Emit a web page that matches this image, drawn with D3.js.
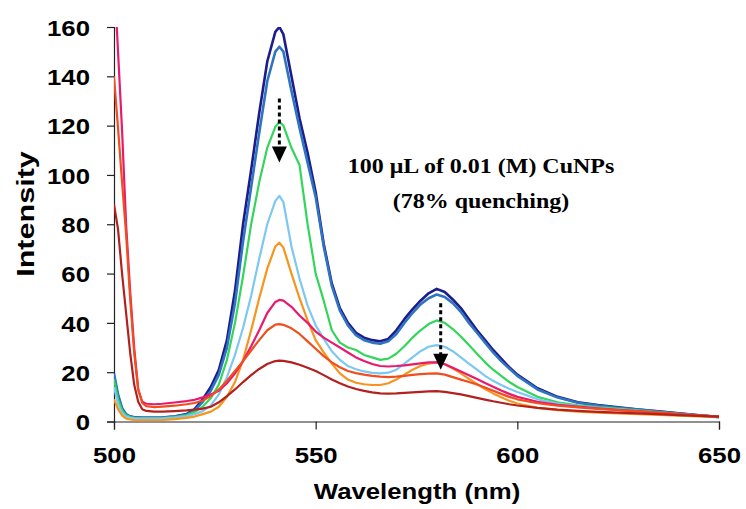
<!DOCTYPE html>
<html>
<head>
<meta charset="utf-8">
<script src="https://cdn.jsdelivr.net/npm/d3@7"></script>
<style>
  html, body { margin: 0; padding: 0; background: #fff; }
  svg { display: block; }
</style>
</head>
<body>
<svg id="chart" width="746" height="509"></svg>
<script>
// ---------------- DATA ----------------
const wavelength = [500,501,502,503,504,505,506,507,508,510,512,515,518,520,522,524,526,528,530,532,534,536,538,540,541,542,544,546,548,550,552,554,556,558,560,562,564,566,568,570,572,574,576,578,580,582,584,586,588,590,592,594,596,598,600,605,610,615,620,625,630,635,640,645,650];

const seriesNames = ["s1","s2","s3","s4","s5","s6","s7","s8"];
const seriesColors = ["#1C1C8C","#2F74C0","#33D65A","#7CC8F2","#F7941D","#E8196E","#F04E1E","#B3201E"];

const s1 = [18,10,5,2.8,2,1.7,1.6,1.5,1.5,1.5,1.6,2,3,5,9,14,21,33,53,80,102,125,146,158,160,157,140,123,109,93,72,56,46,40,36,34,33,32.5,33.5,37,41.5,45.5,49,52,53.8,52.5,49.5,46,41.5,37,33,29,25.5,22,19,13.5,10,7.8,6.7,5.8,4.9,4.1,3.3,2.5,1.8];
const s2 = [19.5,11,5.5,3,2,1.7,1.6,1.5,1.5,1.5,1.6,2,2.8,4.5,8,12.5,19,30,48,73,95,117,138,150,152,150,134,119,105,91,71,55,45,39,35,33,32,31.5,32.5,35.5,40,44,47.5,50,51.5,50.5,48,44.5,40,36,32,28,24.5,21.5,18.5,13,9.7,7.6,6.5,5.6,4.8,4,3.2,2.5,1.8];
const s3 = [17,9,4.5,2.5,1.8,1.5,1.4,1.3,1.3,1.3,1.4,1.8,2.5,3.8,6,9.5,15,25,40,59,80,97,111,119.5,121.5,120,111,104,80,60,49,37,32,30,29,27,26,25,25.5,27.5,30.5,34,37,39.5,41,40,37.5,34.5,31,27.5,24,21,18.5,16,14,10,7.8,6.6,5.8,5.2,4.5,3.8,3.1,2.4,1.8];
const s4 = [14,7,3.5,2,1.5,1.3,1.2,1.2,1.2,1.2,1.3,1.6,2.2,3,4.2,6.5,11,18,27,38,51,66,80,89.5,91.5,89,71,58,47,39,33.5,28.5,25,22.5,21.2,20.3,19.7,19.5,19.8,21,23.5,26,28.5,30.3,31,30.3,28.5,26,23.5,21,18.5,16.5,14.8,13.3,12,9,7.3,6.2,5.5,4.9,4.3,3.6,3,2.4,1.8];
const s5 = [9,5,2.5,1.2,0.8,0.6,0.5,0.5,0.5,0.5,0.6,1,1.5,2,3,4,6,10,16,25,37,50,62,71,72.5,70.5,60,50,41,33,28,23.5,19.5,17,15.7,15.1,14.8,14.8,15.5,17,19,21,22.5,23.5,24,23.3,21.5,19.5,17.3,15.2,13.2,11.4,9.8,8.4,7.3,5.5,4.6,4,3.6,3.3,3,2.7,2.4,2.1,1.8];
const s6 = [182,150,118,80,53,30,13,8,7.2,7,7.2,7.7,8.3,8.8,9.8,11,12.5,15.5,19.5,24.5,30.5,37,44,48.5,49.3,49,46.5,43,40,36.5,34,32,30,28,26,24.5,23.3,22.5,22.3,22.5,22.8,23.2,23.6,24,24,23.2,21.8,20.3,18.8,17.2,15.6,14.1,12.6,11.2,10,8,6.8,6,5.3,4.7,4.2,3.6,3,2.5,2];
const s7 = [140,119,97,76,50,28,13,7.5,6.2,5.8,6,6.4,7,7.5,8.5,10.3,13,16.5,20.5,24.5,28.8,33,37,39.3,39.5,39.2,37.8,35.5,32.5,29.5,26.5,24,22,20.5,19.6,19,18.5,18.2,18,18.2,18.5,18.9,19.2,19.4,19.5,19,18,17,16,15,13.8,12.5,11.2,10,9,7.4,6.4,5.7,5.1,4.6,4.1,3.6,3,2.5,2];
const s8 = [88,78,60,44,28,15,8,5,4.3,4,4,4.2,4.5,4.8,5.2,6,7.8,10.3,13,16,18.8,21.3,23.3,24.5,24.7,24.6,24,23,21.8,20.5,18.8,17,15.5,14.2,13.2,12.4,11.8,11.4,11.3,11.4,11.6,11.8,12,12.2,12.3,12,11.5,11,10.3,9.6,8.9,8.2,7.6,7,6.5,5.5,4.8,4.3,3.9,3.6,3.3,3,2.6,2.3,2];

const seriesValues = [s1,s2,s3,s4,s5,s6,s7,s8];

const yTicks = [0,20,40,60,80,100,120,140,160];
const xTicks = [500,550,600,650];

const annotationLines = ["100 \u03BCL of 0.01 (M) CuNPs", "(78% quenching)"];
const arrowX = [541, 581];
const arrowFrom = [131, 48];
const arrowTo = [105, 21];

// ---------------- CHART ----------------
const svg = d3.select("#chart");
const pLeft = 114, pRight = 719, pTop = 27, pBottom = 421.5;

const x = d3.scaleLinear().domain([500, 650]).range([pLeft, pRight]);
const y = d3.scaleLinear().domain([0, 160]).range([pBottom, pTop]);

svg.append("defs").append("clipPath").attr("id", "plotclip")
  .append("rect").attr("x", pLeft).attr("y", pTop).attr("width", pRight - pLeft).attr("height", pBottom - pTop);

const tickFont = "'Liberation Sans', Arial, sans-serif";
const stretch = 1.12;

// axes
const yAxis = svg.append("g").attr("transform", `translate(${pLeft},0)`)
  .call(d3.axisLeft(y).tickValues(yTicks).tickSize(7).tickPadding(0).tickFormat(d3.format("d")));
const xAxis = svg.append("g").attr("transform", `translate(0,${pBottom})`)
  .call(d3.axisBottom(x).tickValues(xTicks).tickSize(8).tickPadding(0).tickFormat(d3.format("d")));

[yAxis, xAxis].forEach(g => {
  g.select(".domain").attr("stroke", "#222").attr("stroke-width", 1.2);
  g.selectAll(".tick line").attr("stroke", "#222").attr("stroke-width", 1.2);
  g.selectAll(".tick text").attr("font-family", tickFont).attr("font-weight", "bold")
    .attr("font-size", 23).attr("fill", "#000");
});
yAxis.selectAll(".tick text").attr("x", 0).attr("dy", "0.36em")
  .attr("transform", `translate(-24,0) scale(${stretch},1)`);
xAxis.selectAll(".tick text").attr("y", 0).attr("dy", 0)
  .attr("transform", `translate(0,41) scale(${stretch},1)`);

// lines
const line = d3.line().x((d, i) => x(wavelength[i])).y(d => y(d));
const plot = svg.append("g").attr("clip-path", "url(#plotclip)");
seriesValues.forEach((vals, k) => {
  plot.append("path").datum(vals)
    .attr("fill", "none")
    .attr("stroke", seriesColors[k])
    .attr("stroke-width", k < 2 ? 2.6 : 2.2)
    .attr("stroke-linejoin", "round")
    .attr("d", line);
});

// arrows
arrowX.forEach((w, i) => {
  const xa = x(w), y0 = y(arrowFrom[i]), y1 = y(arrowTo[i]);
  svg.append("line").attr("x1", xa).attr("x2", xa).attr("y1", y0).attr("y2", y1 - 15)
    .attr("stroke", "#000").attr("stroke-width", 3).attr("stroke-dasharray", "4,3");
  svg.append("path")
    .attr("d", `M${xa - 7.5},${y1 - 16} L${xa + 7.5},${y1 - 16} L${xa},${y1} Z`)
    .attr("fill", "#000");
});

// annotation
const ann = svg.append("g").attr("font-family", "'Liberation Serif', 'Times New Roman', serif")
  .attr("font-weight", "bold").attr("font-size", 22).attr("fill", "#000");
annotationLines.forEach((t, i) => {
  ann.append("text").attr("text-anchor", "middle")
    .attr("transform", `translate(481,${173 + i * 35}) scale(1.09,1)`)
    .text(t);
});

// axis titles
svg.append("text").attr("font-family", tickFont).attr("font-weight", "bold").attr("font-size", 23)
  .attr("text-anchor", "middle")
  .attr("transform", `translate(417,499) scale(${stretch},1)`)
  .text("Wavelength (nm)");
svg.append("text").attr("font-family", tickFont).attr("font-weight", "bold").attr("font-size", 23)
  .attr("text-anchor", "middle")
  .attr("transform", `translate(34,214) rotate(-90) scale(1.33,1)`)
  .text("Intensity");
</script>
</body>
</html>
